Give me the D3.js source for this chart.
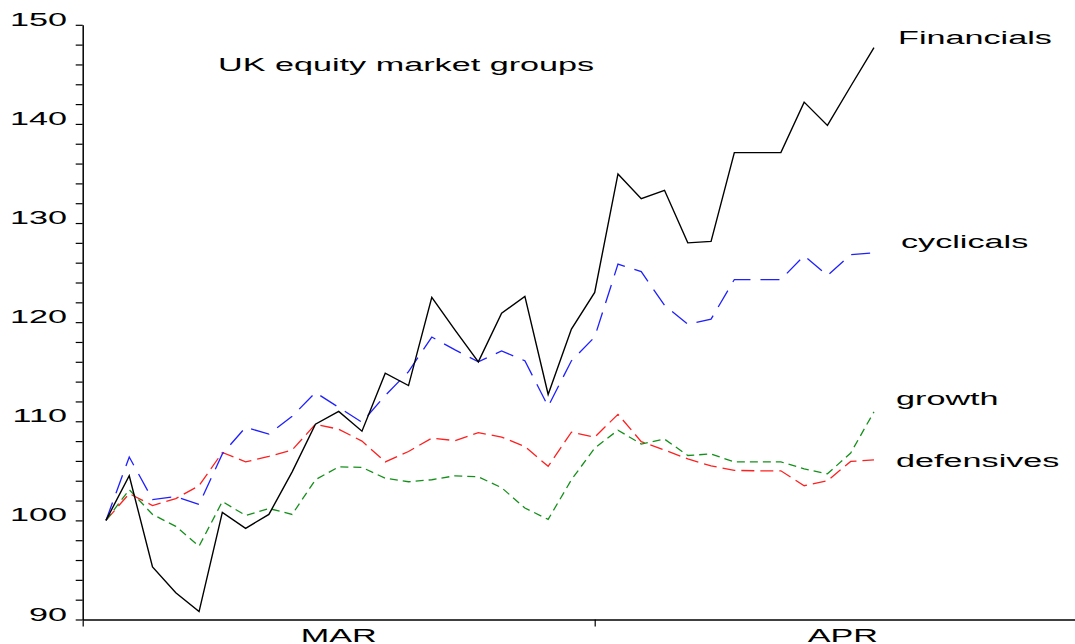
<!DOCTYPE html>
<html>
<head>
<meta charset="utf-8">
<script src="https://cdn.jsdelivr.net/npm/d3@7/dist/d3.min.js"></script>
<style>
html,body{margin:0;padding:0;background:#fff;}
svg{display:block;}
text{font-family:"Liberation Sans",Arial,Helvetica,sans-serif;fill:#000;}
</style>
</head>
<body>
<svg id="chart" width="1075" height="644"></svg>
<script>
// ---- data (business-day index 0..33, rebased to 100) ----
const dayIndex = d3.range(0, 34);
const financials = [100,104.5,95.3,92.7,90.8,100.8,99.2,100.6,104.9,109.7,111.0,109.0,114.85,113.6,122.5,119.2,116.0,120.9,122.6,112.7,119.3,123.0,134.95,132.45,133.3,128.0,128.15,137.1,137.1,137.1,142.2,139.85,143.8,147.7];
const cyclicals = [100,106.4,102.1,102.4,101.6,106.7,109.4,108.7,110.5,112.9,111.4,109.9,112.6,115.0,118.5,117.2,116.0,117.1,116.1,111.5,116.1,118.5,125.85,125.1,121.7,119.8,120.3,124.3,124.3,124.3,126.7,124.7,126.8,127.0];
const growth = [100,103.1,100.6,99.4,97.4,101.9,100.5,101.2,100.6,104.1,105.4,105.35,104.25,103.9,104.1,104.5,104.4,103.3,101.25,100.1,104.1,107.3,109.1,107.7,108.2,106.55,106.7,105.9,105.9,105.9,105.2,104.7,106.8,110.95];
const defensives = [100,102.7,101.5,102.2,103.5,106.85,105.9,106.45,107.1,109.7,109.2,108.0,105.9,106.95,108.3,108.05,108.85,108.4,107.45,105.45,108.9,108.4,110.7,107.95,107.1,106.2,105.5,105.05,105.0,105.0,103.5,104.0,105.95,106.1];
const seriesNames = ["Financials","cyclicals","growth","defensives"];
const seriesValues = [financials, cyclicals, growth, defensives];
const labelLevels = [148.1, 127.5, 111.6, 105.4];
const yMajorTicks = [90,100,110,120,130,140,150];
const yMinorTicks = d3.range(90, 151, 2);
const monthBounds = [-1, 21, 42.33];
const monthLabels = ["MAR","APR"];
const title = "UK equity market groups";

// ---- styles ----
const colors = ["#000000","#1f1fff","#14901a","#ff1f1f"];
const dashes = [null,"19,10","8,5","13,6"];
const widths = [1.4,1.3,1.3,1.3];
const SX = 1.9; // horizontal stretch of text
const FS = 18;

const svg = d3.select("#chart");
svg.append("rect").attr("width",1075).attr("height",644).attr("fill","#fff");

const x = d3.scaleLinear().domain([-1, 21]).range([82.7, 594.7]);
const xAxisScale = x.copy().domain([-1, x.invert(1075)]).range([82.7, 1075]);
const y = d3.scaleLinear().domain([90, 150]).range([619.5, 24.8]);

// y axis
const yAxis = svg.append("g").attr("transform","translate(82.7,0)")
  .call(d3.axisLeft(y).tickValues(yMinorTicks).tickSize(7).tickSizeOuter(0).tickFormat(""));
yAxis.select(".domain").attr("stroke","#000").attr("stroke-width",1.5);
yAxis.selectAll(".tick line").attr("stroke","#000").attr("stroke-width",1.2);

svg.append("g").selectAll("text").data(yMajorTicks).join("text")
  .attr("text-anchor","end")
  .attr("font-size",FS)
  .attr("transform", d => `translate(67,${y(d)+1}) scale(${SX},1)`)
  .text(d => d);

// x axis
const xAxis = svg.append("g").attr("transform",`translate(0,${y(90)})`)
  .call(d3.axisBottom(xAxisScale).tickValues(monthBounds).tickSize(7).tickSizeOuter(0).tickFormat(""));
xAxis.select(".domain").attr("stroke","#000").attr("stroke-width",1.5);
xAxis.selectAll(".tick line").attr("stroke","#000").attr("stroke-width",1.2);

svg.append("g").selectAll("text").data(monthLabels).join("text")
  .attr("text-anchor","middle")
  .attr("font-size",FS)
  .attr("transform", (d,i) => `translate(${(xAxisScale(monthBounds[i])+xAxisScale(monthBounds[i+1]))/2},641.5) scale(${SX},1)`)
  .text(d => d);

// lines (draw order: defensives, growth, cyclicals, financials on top)
const line = d3.line().x((d,i) => x(dayIndex[i])).y(d => y(d));
const order = [3,2,1,0];
svg.append("g").selectAll("path").data(order).join("path")
  .attr("d", k => line(seriesValues[k]))
  .attr("fill","none")
  .attr("stroke", k => colors[k])
  .attr("stroke-width", k => widths[k])
  .attr("stroke-dasharray", k => dashes[k])
  .attr("stroke-linejoin","miter");

// series labels
const labelX = [898, 901, 896, 896];
svg.append("g").selectAll("text").data(seriesNames).join("text")
  .attr("font-size",FS)
  .attr("transform",(d,i) => `translate(${labelX[i]},${y(labelLevels[i])}) scale(${SX},1)`)
  .text(d => d);

// title
svg.append("text").attr("font-size",FS)
  .attr("transform",`translate(218,70.5) scale(${SX},1)`)
  .text(title);
</script>
</body>
</html>
